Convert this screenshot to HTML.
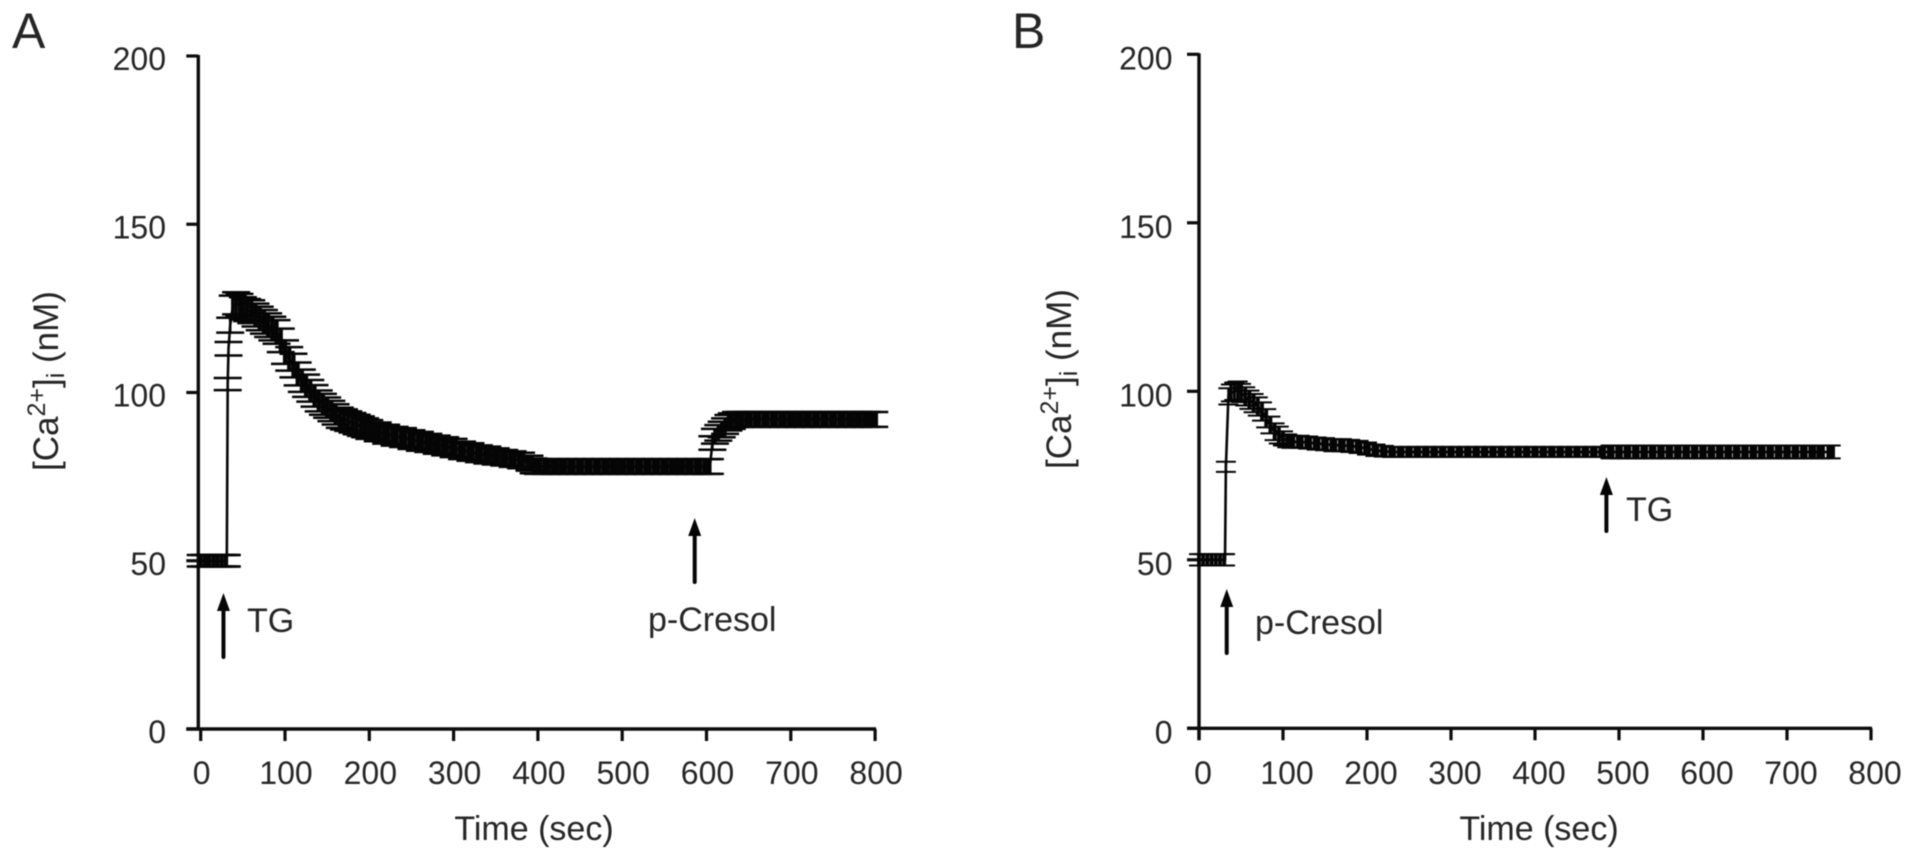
<!DOCTYPE html>
<html lang="en">
<head>
<meta charset="utf-8">
<title>Calcium response panels</title>
<style>
html,body{margin:0;padding:0;background:#fff;width:1913px;height:860px;overflow:hidden}
svg{display:block;filter:blur(0.5px)}
text{font-family:"Liberation Sans",sans-serif;fill:#262626}
</style>
</head>
<body>
<svg id="figure" xmlns="http://www.w3.org/2000/svg" width="1913" height="860" viewBox="0 0 1913 860">
<rect x="0" y="0" width="1913" height="860" fill="#fff"/>
<text x="12" y="48" font-size="50">A</text>
<text x="1012" y="48" font-size="50">B</text>

<g>
<text transform="translate(58,471) rotate(-90)" font-size="35">[Ca<tspan font-size="25" dy="-13">2+</tspan><tspan dy="13">]</tspan><tspan font-size="25" dy="6">i</tspan><tspan dy="-6"> (nM)</tspan></text>
</g>
<g>
<text transform="translate(1071,469) rotate(-90)" font-size="35">[Ca<tspan font-size="25" dy="-13">2+</tspan><tspan dy="13">]</tspan><tspan font-size="25" dy="6">i</tspan><tspan dy="-6"> (nM)</tspan></text>
</g>
<text x="534" y="840" font-size="34" text-anchor="middle">Time (sec)</text>
<text x="1539" y="840" font-size="34" text-anchor="middle">Time (sec)</text>

<text x="247" y="632" font-size="34">TG</text>
<text x="648" y="631" font-size="34">p-Cresol</text>
<text x="1255" y="634" font-size="34">p-Cresol</text>
<text x="1626" y="521" font-size="34">TG</text>

<g id="panelA"></g>
<g id="panelB"></g>
</svg>
<script>
const yTicks = [0, 50, 100, 150, 200];
const xTicksA = [0, 100, 200, 300, 400, 500, 600, 700, 800];
const xTicksB = [0, 100, 200, 300, 400, 500, 600, 700, 800];

const timesA = [0,5,10,15,20,25,30,31,32,33,35,38,42,46,50,55,60,65,70,75,80,85,90,95,100,105,110,115,120,125,130,135,140,145,150,155,160,165,170,175,180,185,190,195,200,210,220,230,240,250,260,270,280,290,300,310,320,330,340,350,360,370,380,390,395,400,410,420,430,440,450,460,470,480,490,500,510,520,530,540,550,560,570,580,590,600,604,607,610,614,618,622,626,630,635,640,650,660,670,680,690,700,710,720,730,740,750,760,770,780,790,799];
const meansA = [50,50,50,50,50,50,50,50,102.5,113,120,125.5,126.5,126,125,124.5,124,123,122,121,120,119,118,115.5,112,110,108,105.5,103.5,102,100.5,99,97.5,96.5,95.5,94.5,93.5,92.5,92,91.5,91,90.5,90,89.5,89,88.3,87.6,87,86.6,86,85.5,85,84.5,84,83.5,82.8,82.3,81.8,81.4,81,80.6,80.2,79.8,79,78.2,78,78,78,78,78,78,78,78,78,78,78,78,78,78,78,78,78,78,78,78,78,78,85,87,88,89,90,91,91.5,92,92,92,92,92,92,92,92,92,92,92,92,92,92,92,92,92,92];
const semsA = [1.7,1.7,1.7,1.7,1.7,1.7,1.7,1.7,1.8,2,2.2,3.3,3.3,3.3,3.3,3.3,3.4,3.4,3.5,3.5,3.5,3.5,3.5,3.5,3.5,3.5,3.5,3.4,3.3,3.3,3.2,3.2,3.1,3.1,3,3,3,3,3,2.9,2.9,2.9,2.9,2.8,2.8,2.8,2.8,2.8,2.8,2.8,2.8,2.7,2.7,2.7,2.7,2.6,2.6,2.5,2.5,2.4,2.3,2.3,2.3,2.2,2.2,2.2,2.2,2.2,2.2,2.2,2.2,2.2,2.2,2.2,2.2,2.2,2.2,2.2,2.2,2.2,2.2,2.2,2.2,2.2,2.2,2.2,2.2,2,2.2,2.3,2.3,2.3,2.3,2.3,2.2,2.2,2.2,2.2,2.2,2.2,2.2,2.2,2.2,2.2,2.2,2.2,2.2,2.2,2.2,2.2,2.2,2.2];

const timesB = [0,5,10,15,20,25,30,31,32,35,38,42,46,50,55,60,65,70,75,80,85,90,95,100,105,110,120,130,140,150,160,170,180,190,200,210,220,230,240,250,260,270,280,290,300,310,320,330,340,350,360,370,380,390,400,410,420,430,440,450,460,470,480,490,500,510,520,530,540,550,560,570,580,590,600,610,620,630,640,650,660,670,680,690,700,710,720,730,740,752];
const meansB = [50,50,50,50,50,50,50,50,77.6,98.5,99.5,100,100.2,99.5,98.5,97.5,96.5,95.5,94,92,90,88,87,86,85.3,85,85,84.8,84.5,84.3,84,84,83.8,83.5,83,82.5,82.2,82,82,82,82,82,82,82,82,82,82,82,82,82,82,82,82,82,82,82,82,82,82,82,82,82,82,82,82,82,82,82,82,82,82,82,82,82,82,82,82,82,82,82,82,82,82,82,82,82,82,82,82,82];
const semsB = [1.7,1.7,1.7,1.7,1.7,1.7,1.7,1.7,1.5,2.4,2.5,2.6,2.7,2.7,2.7,2.7,2.7,2.7,2.7,2.7,2.5,2.5,2.5,2.1,1.9,1.8,1.8,1.8,1.8,1.8,1.8,1.8,1.8,1.8,1.8,1.7,1.6,1.5,1.5,1.5,1.5,1.5,1.5,1.5,1.5,1.5,1.5,1.5,1.5,1.5,1.5,1.5,1.5,1.5,1.5,1.5,1.5,1.5,1.5,1.5,1.5,1.5,1.5,1.9,1.9,1.9,1.9,1.9,1.9,1.9,1.9,1.9,1.9,1.9,1.9,1.9,1.9,1.9,1.9,1.9,1.9,1.9,1.9,1.9,1.9,1.9,1.9,1.9,1.9,1.9];

const arrowTimesA = [27, 586];
const arrowTimesB = [33, 485];

const NS = 'http://www.w3.org/2000/svg';
function mk(parent, tag, attrs) {
  const el = document.createElementNS(NS, tag);
  for (const k in attrs) el.setAttribute(k, attrs[k]);
  parent.appendChild(el);
  return el;
}

function drawPanel(root, cfg) {
  const x = t => cfg.x0 + t * cfg.xPerSec;
  const y = v => cfg.y0 - v * cfg.yPerUnit;
  const stroke = '#0c0c0c';

  const yAxis = mk(root, 'line', {x1: cfg.axisX, x2: cfg.axisX, y1: y(200) - 1, y2: cfg.yAxisEnd, stroke: stroke, 'stroke-width': 3.4});
  
  
  const xAxis = mk(root, 'line', {x1: cfg.axisX - 12, x2: x(800) + 1, y1: y(0), y2: y(0), stroke: stroke, 'stroke-width': 3.4});
  
  

  yTicks.forEach(v => {
    const tick = mk(root, 'line', {x1: cfg.axisX - 12, x2: cfg.axisX, y1: y(v), y2: y(v), stroke: stroke, 'stroke-width': 3.2});
    
    
    const label = mk(root, 'text', {x: cfg.yLabelRight, y: y(v) + cfg.yLabelDrop, 'font-size': 32, 'text-anchor': 'end'});
    label.textContent = String(v);
    
    
  });

  cfg.xTicks.forEach(t => {
    const tick = mk(root, 'line', {x1: x(t), x2: x(t), y1: y(0), y2: y(0) + 12, stroke: stroke, 'stroke-width': 3.2});
    
    
    const label = mk(root, 'text', {x: x(t) + cfg.xLabelShift, y: 784, 'font-size': 32, 'text-anchor': 'middle'});
    label.textContent = String(t);
    
    
  });

  const n = cfg.times.length;
  const series = mk(root, 'g', {});
  
  
  for (let i = 0; i < n; i++) {
    const t = cfg.times[i], m = cfg.means[i], s = cfg.sems[i];
    const prev = i > 0 ? x(t) - x(cfg.times[i - 1]) : 0;
    const next = i < n - 1 ? x(cfg.times[i + 1]) - x(t) : 0;
    const w = Math.min(8.6, Math.max(2, Math.max(prev, next) * cfg.barFill));
    const bar = mk(series, 'line', {x1: x(t), x2: x(t), y1: y(m + s), y2: y(m - s), stroke: '#050505', 'stroke-width': w});
    
    
    [m + s, m - s].forEach(v => {
      const cap = mk(series, 'line', {x1: x(t) - cfg.capHalf, x2: x(t) + cfg.capHalf, y1: y(v), y2: y(v), stroke: '#050505', 'stroke-width': cfg.capWidth});
      
      
    });
  }
  const pts = cfg.times.map((t, i) => x(t).toFixed(1) + ',' + y(cfg.means[i]).toFixed(1)).join(' ');
  const line = mk(series, 'polyline', {points: pts, fill: 'none', stroke: '#050505', 'stroke-width': 2.6});
  
  

  cfg.arrowTimes.forEach((t, i) => {
    const ax = x(t), tip = cfg.arrowTips[i], tail = tip + cfg.arrowLens[i];
    const shaft = mk(root, 'line', {x1: ax, x2: ax, y1: tip + 14, y2: tail, stroke: '#050505', 'stroke-width': 4, 'stroke-linecap': 'round'});
    
    
    const head = mk(root, 'polygon', {points: (ax - 6.5) + ',' + (tip + 18) + ' ' + ax + ',' + tip + ' ' + (ax + 6.5) + ',' + (tip + 18), fill: '#050505'});
    
    
  });
}

drawPanel(document.getElementById('panelA'), {
  x0: 200.7, xPerSec: 0.843, y0: 729, yPerUnit: 3.365, axisX: 198.3, yAxisEnd: 729,
  yLabelRight: 166, yLabelDrop: 14, xLabelShift: 1, xTicks: xTicksA,
  times: timesA, means: meansA, sems: semsA,
  capHalf: 14, capWidth: 2.5, barFill: 1,
  arrowTimes: arrowTimesA, arrowTips: [593, 518], arrowLens: [64, 64]
});
drawPanel(document.getElementById('panelB'), {
  x0: 1199, xPerSec: 0.84, y0: 728.3, yPerUnit: 3.37, axisX: 1199, yAxisEnd: 740,
  yLabelRight: 1172.5, yLabelDrop: 15, xLabelShift: 4, xTicks: xTicksB,
  times: timesB, means: meansB, sems: semsB,
  capHalf: 10, capWidth: 2, barFill: 0.92,
  arrowTimes: arrowTimesB, arrowTips: [589, 477], arrowLens: [64, 54]
});
</script>
</body>
</html>
